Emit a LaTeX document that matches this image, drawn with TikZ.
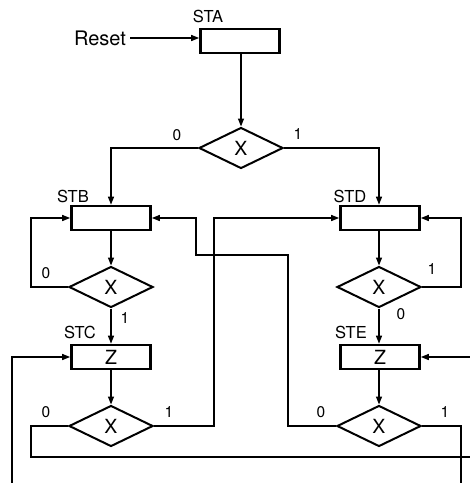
\documentclass[tikz,border=0pt]{standalone}
\usepackage{fontspec}
\setmainfont{TeX Gyre Heros}
\usetikzlibrary{arrows.meta,shapes.geometric}

\begin{document}
\begin{tikzpicture}[x=1pt, y=-1pt, >={Triangle[length=8pt, width=6pt]},
  state/.style={draw, line width=2.7pt, minimum width=79pt, minimum height=24pt,
    inner sep=0pt, font=\fontsize{19.5}{22}\selectfont},
  test/.style={draw, diamond, line width=2pt, minimum width=84pt, minimum height=41pt,
    inner sep=0pt, font=\fontsize{19.5}{22}\selectfont},
  wire/.style={line width=1.4pt},
  sname/.style={font=\fontsize{16.5}{18}\selectfont},
  bit/.style={font=\fontsize{15.5}{18}\selectfont}]
\useasboundingbox (0,0) rectangle (470,483);
% states and tests
\node[state] (STA) at (240,41) {};
\node[test]  (xA)  at (241,148) {X};
\node[state] (STB) at (111,218) {};
\node[state] (STD) at (380,218) {};
\node[test]  (xB)  at (111,287) {X};
\node[test]  (xD)  at (379,287) {X};
\node[state] (STC) at (111,357) {Z};
\node[state] (STE) at (380,357) {Z};
\node[test]  (xC)  at (111,426) {X};
\node[test]  (xE)  at (379,426) {X};
% state names
\node[sname] (nSTA) at (208,16) {STA};
\node[sname] (nSTB) at (73,196) {STB};
\node[sname] (nSTD) at (350,196) {STD};
\node[sname] (nSTC) at (80,332) {STC};
\node[sname] (nSTE) at (351,332) {STE};
\node[font=\fontsize{20}{22}\selectfont, inner sep=4pt] (Reset) at (100,38) {Reset};
% branch values
\node[bit] (bA0) at (177,135) {0};
\node[bit] (bA1) at (298,134) {1};
\node[bit] (bB0) at (46,273) {0};
\node[bit] (bB1) at (125,318) {1};
\node[bit] (bD1) at (432,269) {1};
\node[bit] (bD0) at (401,314) {0};
\node[bit] (bC0) at (46,412) {0};
\node[bit] (bC1) at (169,412) {1};
\node[bit] (bE0) at (321,412) {0};
\node[bit] (bE1) at (445,412) {1};
% bends and page exits
\coordinate (xl) at (31,0);      % left loop
\coordinate (xr) at (461,0);     % right loop
\coordinate (xm) at (214,0);     % STC test to STD
\coordinate (j1) at (288,255);   % STE test to STB
\coordinate (j2) at (196,255);
\coordinate (j3) at (31,457);    % STC test, 0 exit
\coordinate (j4) at (470,457);
\coordinate (j5) at (461,483);   % STE test, 1 exit
\coordinate (j6) at (12,483);    % entry into STC
\coordinate (j7) at (470,357);   % entry into STE
% connectors
\draw[wire, ->] (Reset.east) -- (Reset.east -| STA.west);
\draw[wire, ->] (STA.south -| xA) -- (xA.north);
\draw[wire, ->] (xA.west) -| (STB.north -| xB);
\draw[wire, ->] (xA.east) -| (STD.north -| xD);
\draw[wire, ->] (STB.south -| xB) -- (xB.north);
\draw[wire, ->] (STD.south -| xD) -- (xD.north);
\draw[wire, ->] (xB.west) -- (xB.west -| xl) |- (STB.west);
\draw[wire, ->] (xD.east) -- (xD.east -| xr) |- (STD.east);
\draw[wire, ->] (xB.south) -- (STC.north -| xB);
\draw[wire, ->] (xD.south) -- (STE.north -| xD);
\draw[wire, ->] (STC.south -| xC) -- (xC.north);
\draw[wire, ->] (STE.south -| xE) -- (xE.north);
\draw[wire, ->] (xC.east) -- (xC.east -| xm) |- (STD.west);
\draw[wire, ->] (xE.west) -| (j1) -- (j2) |- (STB.east);
\draw[wire] (xC.west) -| (j3) -- (j4);
\draw[wire] (xE.east) -| (j5);
\draw[wire, ->] (j6) |- (STC.west);
\draw[wire, ->] (j7) -- (STE.east);
\end{tikzpicture}
\end{document}
